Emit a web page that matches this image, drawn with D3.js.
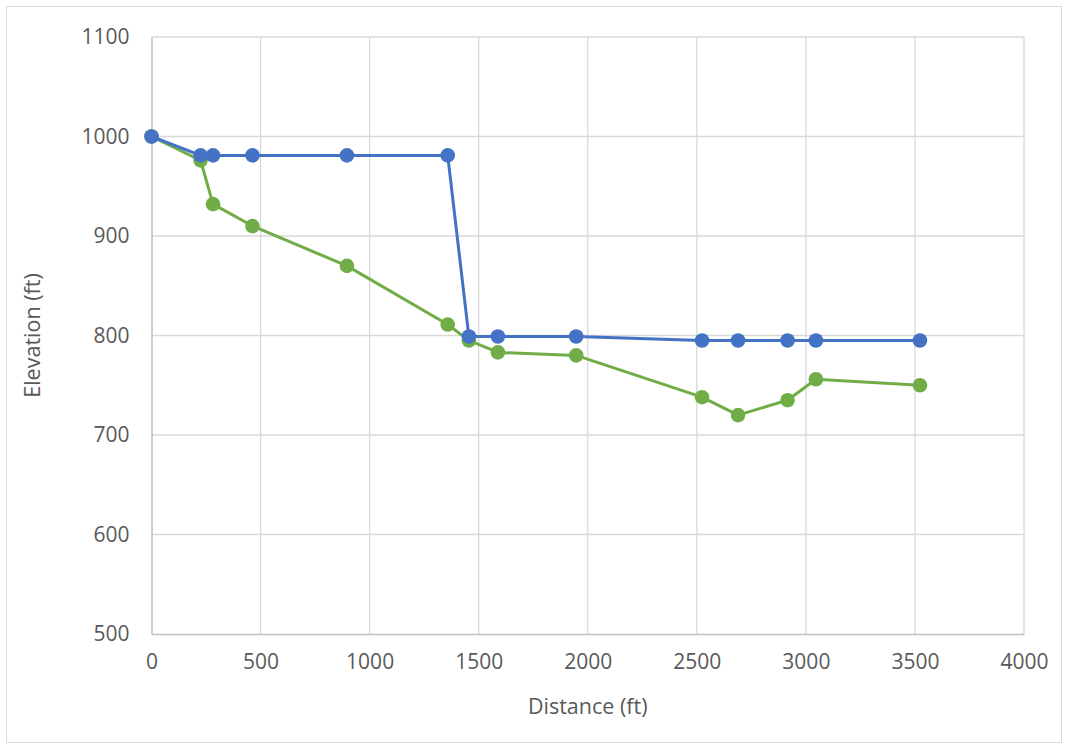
<!DOCTYPE html>
<html>
<head>
<meta charset="utf-8">
<script src="https://cdn.jsdelivr.net/npm/d3@7"></script>
<style>
    body { margin: 0; background: #ffffff; }
    text { font-family: "Open Sans", "Liberation Sans", sans-serif; fill: #595959; }
</style>
</head>
<body>
<div id="chart"></div>
<script>

var distance = [0, 225, 282, 463, 896, 1358, 1455, 1588, 1947, 2524, 2689, 2916, 3046, 3523];
var elevationBlue = [1000, 981, 981, 981, 981, 981, 799, 799, 799, 795, 795, 795, 795, 795];
var elevationGreen = [1000, 976, 932, 910, 870, 811, 795, 783, 780, 738, 720, 735, 756, 750];
var xTicks = [0, 500, 1000, 1500, 2000, 2500, 3000, 3500, 4000];
var yTicks = [500, 600, 700, 800, 900, 1000, 1100];

var svgWidth = 1067;
var svgHeight = 748;

var margin = { top: 37, right: 43, bottom: 114, left: 151.5 };
var chartWidth = svgWidth - margin.left - margin.right;
var chartHeight = svgHeight - margin.top - margin.bottom;

var svg = d3.select("#chart")
    .append("svg")
    .attr("width", svgWidth)
    .attr("height", svgHeight);

// outer chart border
svg.append("rect")
    .attr("x", 6.5)
    .attr("y", 6.5)
    .attr("width", svgWidth - 12)
    .attr("height", svgHeight - 12)
    .attr("fill", "none")
    .attr("stroke", "#d9d9d9")
    .attr("stroke-width", 1);

var chartGroup = svg.append("g")
    .attr("transform", `translate(${margin.left}, ${margin.top})`);

var xScale = d3.scaleLinear()
    .domain([0, 4000])
    .range([0, chartWidth]);

var yScale = d3.scaleLinear()
    .domain([500, 1100])
    .range([chartHeight, 0]);

// gridlines
chartGroup.append("g")
    .selectAll("line")
    .data(xTicks.slice(1))
    .enter().append("line")
    .attr("x1", d => xScale(d))
    .attr("x2", d => xScale(d))
    .attr("y1", 0)
    .attr("y2", chartHeight)
    .attr("stroke", "#d9d9d9")
    .attr("stroke-width", 1.3);

chartGroup.append("g")
    .selectAll("line")
    .data(yTicks.slice(1))
    .enter().append("line")
    .attr("x1", 0)
    .attr("x2", chartWidth)
    .attr("y1", d => yScale(d))
    .attr("y2", d => yScale(d))
    .attr("stroke", "#d9d9d9")
    .attr("stroke-width", 1.3);

// axes
var bottomAxis = d3.axisBottom(xScale).tickValues(xTicks).tickFormat(d3.format("d")).tickSize(0).tickPadding(20);
var leftAxis = d3.axisLeft(yScale).tickValues(yTicks).tickFormat(d3.format("d")).tickSize(0).tickPadding(22);

var xAxis = chartGroup.append("g")
    .attr("transform", `translate(0, ${chartHeight})`)
    .call(bottomAxis);

var yAxis = chartGroup.append("g")
    .call(leftAxis);

xAxis.select(".domain").attr("stroke", "#bfbfbf").attr("stroke-width", 1.5);
yAxis.select(".domain").attr("stroke", "#bfbfbf").attr("stroke-width", 1.5);

chartGroup.selectAll(".tick text")
    .attr("font-size", "21px")
    .attr("font-family", "'Open Sans', 'Liberation Sans', sans-serif")
    .attr("fill", "#595959");

// axis titles
chartGroup.append("text")
    .attr("x", chartWidth / 2)
    .attr("y", chartHeight + 80)
    .attr("text-anchor", "middle")
    .attr("font-size", "21.5px")
    .text("Distance (ft)");

chartGroup.append("text")
    .attr("transform", "rotate(-90)")
    .attr("x", -chartHeight / 2)
    .attr("y", -112)
    .attr("text-anchor", "middle")
    .attr("font-size", "21.5px")
    .text("Elevation (ft)");

// series
var series = [
    { values: elevationGreen, color: "#70ad47" },
    { values: elevationBlue, color: "#4472c4" }
];

var line = d3.line()
    .x(d => xScale(d[0]))
    .y(d => yScale(d[1]));

series.forEach(function(s) {
    var pts = distance.map((d, i) => [d, s.values[i]]);

    chartGroup.append("path")
        .datum(pts)
        .attr("d", line)
        .attr("fill", "none")
        .attr("stroke", s.color)
        .attr("stroke-width", 3)
        .attr("stroke-linejoin", "round");

    chartGroup.append("g")
        .selectAll("circle")
        .data(pts)
        .enter().append("circle")
        .attr("cx", d => xScale(d[0]))
        .attr("cy", d => yScale(d[1]))
        .attr("r", 7.3)
        .attr("fill", s.color);
});

</script>
</body>
</html>
